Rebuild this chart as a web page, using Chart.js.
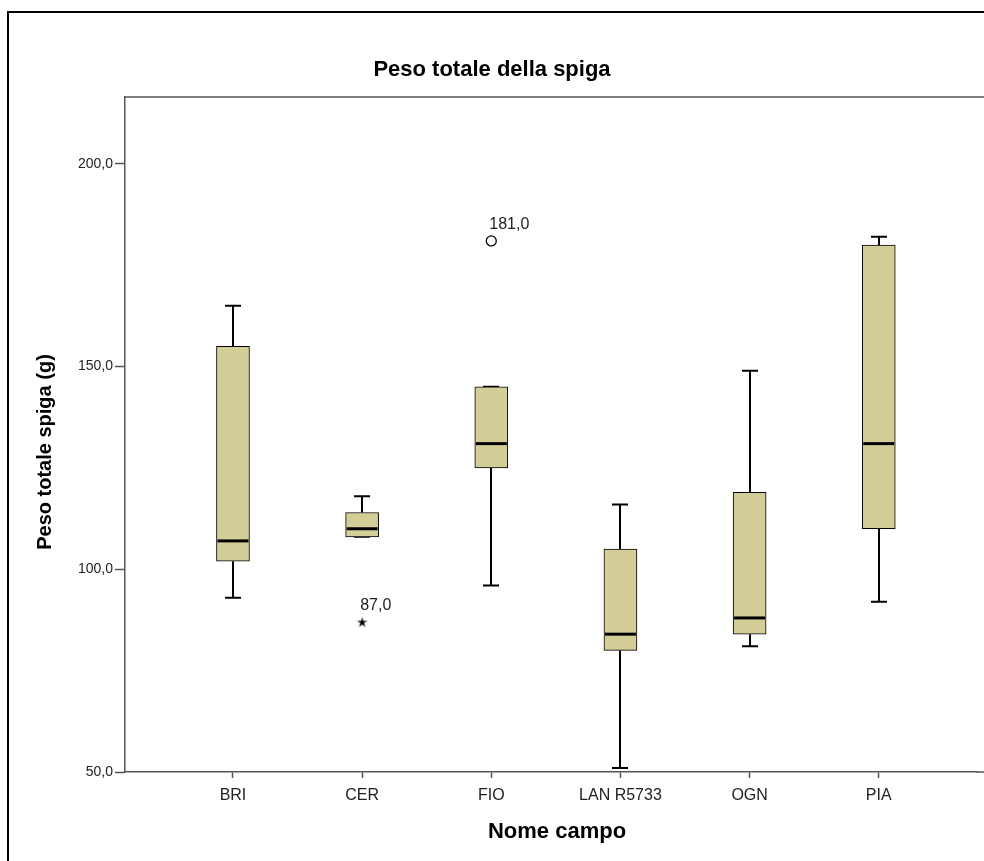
<!DOCTYPE html>
<html>
<head>
<meta charset="utf-8">
<title>Peso totale della spiga</title>
<script src="https://cdn.jsdelivr.net/npm/chart.js@4/dist/chart.umd.min.js"></script>
<style>
  html, body { margin: 0; padding: 0; overflow: hidden; background: #fff; }
  canvas { display: block; }
</style>
</head>
<body>
<canvas id="chart" width="984" height="861"></canvas>
<script>
// Field names on the category axis
const categories = ['BRI', 'CER', 'FIO', 'LAN R5733', 'OGN', 'PIA'];

// Five-number summaries per field (g)
const whiskerLow  = [93, 108, 96, 51, 81, 92];
const quartile1   = [102, 108, 125, 80, 84, 110];
const medians     = [107, 110, 131, 84, 88, 131];
const quartile3   = [155, 114, 145, 105, 119, 180];
const whiskerHigh = [165, 118, 145, 116, 149, 182];

// Points beyond the whiskers: outliers (circle) and extremes (star)
const outlierField = [2];
const outlierValue = [181];
const extremeField = [1];
const extremeValue = [87];

// Value-axis ticks
const yTicks = [50, 100, 150, 200];

const FONT = '"Liberation Sans", Arial, Helvetica, sans-serif';
const TITLE_SIZE = 22;
const YTITLE_SIZE = 20;
const XTICK_SIZE = 16;
const YTICK_SIZE = 14;
const LABEL_SIZE = 16;
const fmt = v => v.toFixed(1).replace('.', ',');

// Small filled star used as the marker for extreme values
const starMarker = (() => {
  const c = document.createElement('canvas');
  c.width = 13; c.height = 13;
  const g = c.getContext('2d');
  g.fillStyle = '#000';
  g.beginPath();
  for (let i = 0; i < 10; i++) {
    const r = i % 2 ? 1.9 : 5.5;
    const a = -Math.PI / 2 + i * Math.PI / 5;
    const px = 6.5 + r * Math.cos(a), py = 7 + r * Math.sin(a);
    if (i === 0) g.moveTo(px, py); else g.lineTo(px, py);
  }
  g.closePath();
  g.fill();
  return c;
})();

// Page frame, plot borders running to the page edge, and the axis titles
const framePlugin = {
  id: 'frame',
  beforeDraw(chart) {
    const { ctx, chartArea } = chart;
    ctx.save();
    ctx.fillStyle = '#fff';
    ctx.fillRect(0, 0, chart.width, chart.height);
    ctx.strokeStyle = '#000';
    ctx.lineWidth = 2;
    ctx.strokeRect(8, 12, chart.width + 50, chart.height + 50);
    ctx.strokeStyle = '#555';
    ctx.lineWidth = 1.5;
    ctx.beginPath();
    ctx.moveTo(chartArea.left, chartArea.top);
    ctx.lineTo(chart.width, chartArea.top);
    ctx.moveTo(chartArea.right - 1, chartArea.bottom);
    ctx.lineTo(chart.width, chartArea.bottom);
    ctx.stroke();
    ctx.restore();
  },
  afterDraw(chart) {
    const { ctx } = chart;
    ctx.save();
    ctx.fillStyle = '#000';
    ctx.textAlign = 'center';
    ctx.textBaseline = 'middle';
    ctx.font = 'bold ' + TITLE_SIZE + 'px ' + FONT;
    ctx.fillText('Nome campo', 557, 832);
    ctx.translate(45, 452);
    ctx.rotate(-Math.PI / 2);
    ctx.font = 'bold ' + YTITLE_SIZE + 'px ' + FONT;
    ctx.fillText('Peso totale spiga (g)', 0, 0);
    ctx.restore();
  }
};

// Whiskers behind the boxes, medians and point labels on top
const boxPlotPlugin = {
  id: 'boxWhiskers',
  beforeDatasetsDraw(chart) {
    const { ctx, scales: { x, y } } = chart;
    const cap = 8;
    ctx.save();
    ctx.strokeStyle = '#000';
    ctx.lineWidth = 2;
    categories.forEach((_, i) => {
      const cx = Math.round(x.getPixelForValue(i));
      const yHi = y.getPixelForValue(whiskerHigh[i]);
      const yQ3 = y.getPixelForValue(quartile3[i]);
      const yLo = y.getPixelForValue(whiskerLow[i]);
      const yQ1 = y.getPixelForValue(quartile1[i]);
      ctx.beginPath();
      ctx.moveTo(cx, yQ3); ctx.lineTo(cx, yHi);
      ctx.moveTo(cx - cap, yHi); ctx.lineTo(cx + cap, yHi);
      ctx.moveTo(cx, yQ1); ctx.lineTo(cx, yLo);
      ctx.moveTo(cx - cap, yLo); ctx.lineTo(cx + cap, yLo);
      ctx.stroke();
    });
    ctx.restore();
  },
  afterDatasetsDraw(chart) {
    const { ctx, scales: { y } } = chart;
    const boxes = chart.getDatasetMeta(0).data;
    ctx.save();
    ctx.strokeStyle = '#000';
    ctx.lineWidth = 3;
    boxes.forEach((bar, i) => {
      const my = y.getPixelForValue(medians[i]);
      ctx.beginPath();
      ctx.moveTo(bar.x - bar.width / 2 + 1, my);
      ctx.lineTo(bar.x + bar.width / 2 - 1, my);
      ctx.stroke();
    });
    ctx.font = LABEL_SIZE + 'px ' + FONT;
    ctx.fillStyle = '#222';
    ctx.textAlign = 'left';
    ctx.textBaseline = 'middle';
    [[1, outlierValue], [2, extremeValue]].forEach(([di, vals]) => {
      chart.getDatasetMeta(di).data.forEach((pt, k) => {
        ctx.fillText(fmt(vals[k]), pt.x - 2, pt.y - 16);
      });
    });
    ctx.restore();
  }
};

new Chart(document.getElementById('chart'), {
  data: {
    datasets: [
      {
        type: 'bar',
        data: categories.map((_, i) => ({ x: i, y: [quartile1[i], quartile3[i]] })),
        backgroundColor: '#d3ce97',
        borderColor: '#000',
        borderWidth: 1,
        borderSkipped: false,
        barThickness: 33
      },
      {
        type: 'scatter',
        data: outlierField.map((f, k) => ({ x: f, y: outlierValue[k] })),
        pointStyle: 'circle',
        pointRadius: 5,
        borderColor: '#000',
        borderWidth: 1.3,
        backgroundColor: 'rgba(0,0,0,0)'
      },
      {
        type: 'scatter',
        data: extremeField.map((f, k) => ({ x: f, y: extremeValue[k] })),
        pointStyle: starMarker,
        pointRadius: 5
      }
    ]
  },
  options: {
    responsive: false,
    devicePixelRatio: 1,
    animation: false,
    events: [],
    layout: { padding: 0 },
    plugins: {
      legend: { display: false },
      tooltip: { enabled: false },
      title: {
        display: true,
        text: 'Peso totale della spiga',
        color: '#000',
        font: { family: FONT, size: TITLE_SIZE, weight: 'bold' },
        padding: { top: 56.8, bottom: 13.8 }
      }
    },
    scales: {
      x: {
        type: 'linear',
        offset: false,
        min: -0.836,
        max: 5.766,
        afterBuildTicks: s => { s.ticks = categories.map((_, i) => ({ value: i })); },
        afterFit: s => { s.height = 89; s.paddingRight = 0; s.paddingLeft = 0; },
        ticks: {
          callback: v => categories[v],
          color: '#222',
          font: { family: FONT, size: XTICK_SIZE },
          padding: 8,
          maxRotation: 0,
          autoSkip: false
        },
        grid: {
          offset: false,
          drawOnChartArea: false,
          drawTicks: true,
          tickLength: 6,
          tickColor: '#555',
          tickWidth: 1.5
        },
        border: { display: true, color: '#555', width: 1.5 }
      },
      y: {
        type: 'linear',
        min: 50,
        max: 216.5,
        afterBuildTicks: s => { s.ticks = yTicks.map(v => ({ value: v })); },
        afterFit: s => { s.width = 125; },
        ticks: {
          callback: v => fmt(v),
          color: '#222',
          font: { family: FONT, size: YTICK_SIZE },
          padding: 2
        },
        grid: {
          drawOnChartArea: false,
          drawTicks: true,
          tickLength: 10,
          tickColor: '#555',
          tickWidth: 1.5
        },
        border: { display: true, color: '#555', width: 1.5 }
      }
    }
  },
  plugins: [framePlugin, boxPlotPlugin]
});
</script>
</body>
</html>
